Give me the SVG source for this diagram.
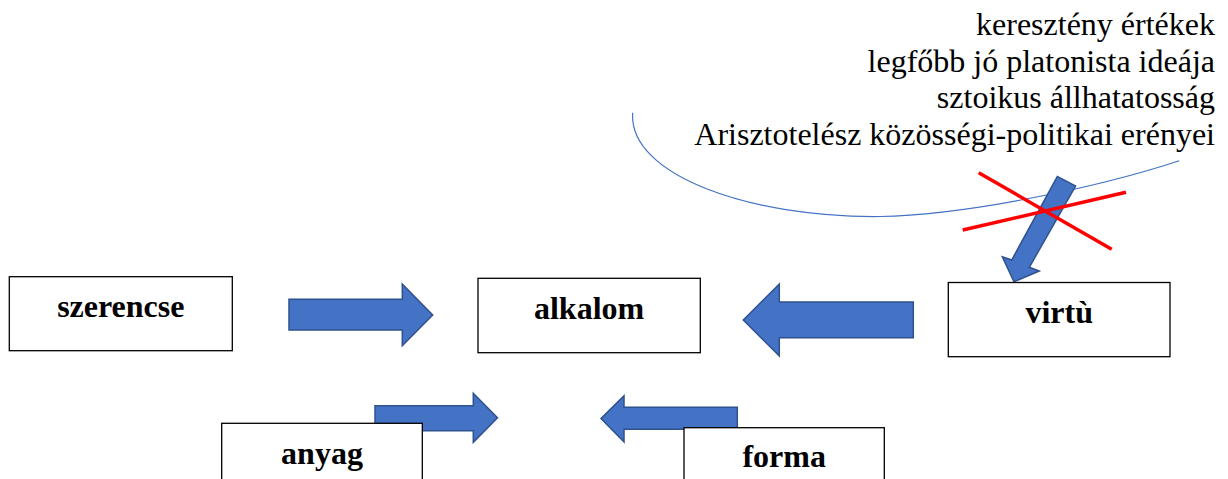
<svg xmlns="http://www.w3.org/2000/svg" width="1228" height="479" viewBox="0 0 1228 479">
<style>
.box{fill:#fff;stroke:#000;stroke-width:1.3}
.lbl{font-family:"Liberation Serif","Times New Roman",serif;font-weight:bold;font-size:32px;fill:#000;text-anchor:middle}
.note{font-family:"Liberation Serif","Times New Roman",serif;font-size:32px;fill:#000;text-anchor:end}
.arr{fill:#4472C4;stroke:#2F528F;stroke-width:1.5;stroke-linejoin:miter}
.curve{fill:none;stroke:#4472C4;stroke-width:1.2}
.cross{stroke:#FF0000;stroke-width:3.5;fill:none}
</style>
<rect width="1228" height="479" fill="#fff"/>
<g id="notes">
<text class="note" x="1215" y="35">keresztény értékek</text>
<text class="note" x="1215" y="71.7">legfőbb jó platonista ideája</text>
<text class="note" x="1215" y="108.4">sztoikus állhatatosság</text>
<text class="note" x="1215" y="145">Arisztotelész közösségi-politikai erényei</text>
</g>
<g id="connectors">
<path class="curve" d="M632.7,112.7 C628,175 750,218 880,216.5 C960,215 1090,190 1179.3,160.7"/>
<path class="arr" d="M289,299.3 L402.3,299.3 L402.3,284 L432.7,315 L402.3,345.7 L402.3,330 L289,330 Z"/>
<path class="arr" d="M913.3,302 L779.3,302 L779.3,284 L743.3,320 L779.3,356 L779.3,337.7 L913.3,337.7 Z"/>
<path class="arr" d="M375,405.7 L473.3,405.7 L473.3,393.3 L497.5,417.8 L473.3,442.3 L473.3,430.7 L375,430.7 Z"/>
<path class="arr" d="M737.3,407.3 L624,407.3 L624,395.7 L601,418.6 L624,442 L624,429.3 L737.3,429.3 Z"/>
<path class="arr" d="M1057.4,176.4 L1011.7,260 L1002.3,256.7 L1014,281.7 L1039.3,271 L1029.3,267.3 L1075.6,186 Z"/>
<line class="cross" x1="978.7" y1="172.7" x2="1111.7" y2="249.3"/>
<line class="cross" x1="962.7" y1="230" x2="1126" y2="192.3"/>
</g>
<g id="szerencse">
<rect class="box" x="9.3" y="276.7" width="223" height="74"/>
<text class="lbl" x="120.8" y="317.3">szerencse</text>
</g>
<g id="alkalom">
<rect class="box" x="478" y="278.3" width="222.3" height="74.4"/>
<text class="lbl" x="589.1" y="319.3">alkalom</text>
</g>
<g id="virtu">
<rect class="box" x="948.3" y="282.5" width="221.7" height="74.2"/>
<text class="lbl" x="1059.2" y="322.7">virtù</text>
</g>
<g id="anyag">
<rect class="box" x="221.7" y="423.3" width="200.6" height="80"/>
<text class="lbl" x="322" y="464">anyag</text>
</g>
<g id="forma">
<rect class="box" x="684" y="427.7" width="200.3" height="80"/>
<text class="lbl" x="784.2" y="467">forma</text>
</g>
</svg>
